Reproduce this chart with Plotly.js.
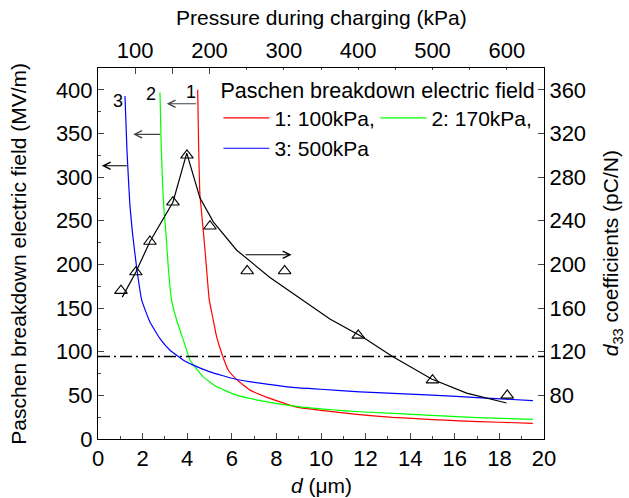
<!DOCTYPE html>
<html>
<head>
<meta charset="utf-8">
<script src="https://cdn.plot.ly/plotly-3.0.1.min.js"></script>
<style>html,body{margin:0;padding:0;background:#fff;}#chart{width:629px;height:498px;}</style>
</head>
<body>
<div id="chart"></div>
<script>
// Paschen breakdown electric field curves (MV/m) vs gap d (um)
const p100_x = [4.47, 4.51, 4.57, 4.65, 4.80, 4.90, 4.99, 5.17, 5.32, 5.55, 5.84, 6.25, 6.82, 7.71, 8.91, 10.1, 11.5, 13.2, 15.0, 16.2, 18.0, 19.5];
const p100_y = [400, 340, 280, 258, 216, 185, 159, 136, 117, 98, 79, 67.4, 56, 46.5, 36.5, 32.5, 28.5, 24.8, 22.3, 20.8, 19.2, 18];
const p170_x = [2.78, 2.83, 2.90, 2.96, 3.05, 3.15, 3.30, 3.53, 3.83, 4.13, 4.35, 4.72, 5.32, 6.22, 7.57, 9.06, 10.5, 11.75, 14.74, 17.0, 19.5];
const p170_y = [397, 340, 290, 262, 235, 197, 159, 136, 113, 90.3, 82.6, 71.2, 59.8, 50.3, 42.6, 36.8, 33.5, 31.2, 27.4, 24.5, 22.5];
const p500_x = [1.21, 1.30, 1.43, 1.55, 1.73, 1.96, 2.33, 2.78, 3.23, 3.83, 4.27, 5.02, 6.22, 7.57, 9.0, 10.0, 11.75, 14.74, 17.0, 19.5];
const p500_y = [393, 330, 268, 235, 197, 159, 134, 115, 101.7, 90.3, 84.6, 76.9, 68.2, 62.9, 58.5, 57, 54, 50.6, 47.5, 44];

// d33 coefficients (pC/N) measured and guide line
const d33_x = [1.03, 1.70, 2.33, 3.36, 3.99, 5.02, 6.69, 8.37, 11.67, 15.0, 18.35];
const d33_y = [176, 193, 221, 257, 300, 235, 194, 194, 135, 94, 80];
const fit_x = [1.09, 1.70, 2.33, 3.36, 3.98, 4.57, 5.17, 6.22, 7.71, 10.40, 11.90, 13.17, 14.96, 16.53, 18.32];
const fit_y = [170, 193, 221, 257, 302, 261, 239, 213, 188, 150, 133, 116, 95, 82, 73];

const legendNames = ['1: 100kPa,', '2: 170kPa,', '3: 500kPa'];
const curveLabels = ['1', '2', '3'];
const labelX = [4.17, 2.38, 0.91];
const labelY = [397, 395, 387];
// arrows (head x, tail x, y) left axis units
const arrowHeadX = [3.08, 1.58, 0.17];
const arrowTailX = [4.47, 2.85, 1.36];
const arrowY = [384, 349, 313];
const rightArrow = {tailX: 6.55, headX: 8.68, y: 211};
const dashLevel = 94.5;

const titles = {
  bottom: '<i>d</i> (μm)',
  top: 'Pressure during charging (kPa)',
  left: 'Paschen breakdown electric field (MV/m)',
  right: '<i>d</i><sub>33</sub> coefficients (pC/N)'
};

const FONT = 'Liberation Sans, Arial, sans-serif';
function mkFont(size) { return {family: FONT, size: size, color: '#000'}; }

const traces = [
  {x: p100_x, y: p100_y, mode: 'lines', name: legendNames[0], line: {color: '#ff0000', width: 1.2, shape: 'spline', smoothing: 0.4}},
  {x: p170_x, y: p170_y, mode: 'lines', name: legendNames[1], line: {color: '#00ff00', width: 1.2, shape: 'spline', smoothing: 0.4}},
  {x: p500_x, y: p500_y, mode: 'lines', name: legendNames[2], line: {color: '#0000ff', width: 1.2, shape: 'spline', smoothing: 0.4}},
  {x: fit_x, y: fit_y, yaxis: 'y2', mode: 'lines', showlegend: false, line: {color: '#000', width: 1.2}},
  {x: d33_x, y: d33_y, yaxis: 'y2', mode: 'markers', showlegend: false,
   marker: {symbol: 'triangle-up-open', size: 11, color: '#000', line: {width: 1.1, color: '#000'}}},
  {x: [null], y: [null], xaxis: 'x2', yaxis: 'y', mode: 'markers', showlegend: false, hoverinfo: 'skip'}
];

const annotations = [];
for (let i = 0; i < 3; i++) {
  annotations.push({x: labelX[i], y: labelY[i], xref: 'x', yref: 'y', text: curveLabels[i], showarrow: false,
    font: mkFont(18)});
  annotations.push({x: arrowHeadX[i], y: arrowY[i], ax: arrowTailX[i], ay: arrowY[i], xref: 'x', yref: 'y',
    axref: 'x', ayref: 'y', text: '', showarrow: true, arrowhead: 5, arrowsize: 1.3, arrowwidth: 1.1,
    arrowcolor: i === 2 ? '#000' : '#444', standoff: 0, startstandoff: 0});
}
annotations.push({x: rightArrow.headX, y: rightArrow.y, ax: rightArrow.tailX, ay: rightArrow.y, xref: 'x', yref: 'y',
  axref: 'x', ayref: 'y', text: '', showarrow: true, arrowhead: 5, arrowsize: 1.3, arrowwidth: 1.1,
  arrowcolor: '#000', standoff: 0, startstandoff: 0});
// axis titles placed in paper coordinates
annotations.push({xref: 'paper', yref: 'paper', x: 0.5, y: -0.124, text: titles.bottom, showarrow: false,
  xanchor: 'center', yanchor: 'middle', font: mkFont(21)});
annotations.push({xref: 'paper', yref: 'paper', x: 0.5, y: 1.137, text: titles.top, showarrow: false,
  xanchor: 'center', yanchor: 'middle', font: mkFont(21)});
annotations.push({xref: 'paper', yref: 'paper', x: -0.179, y: 0.5, text: titles.left, showarrow: false,
  textangle: -90, xanchor: 'center', yanchor: 'middle', font: mkFont(21)});
annotations.push({xref: 'paper', yref: 'paper', x: 1.152, y: 0.5, text: titles.right, showarrow: false,
  textangle: -90, xanchor: 'center', yanchor: 'middle', font: mkFont(21)});

const layout = {
  width: 629, height: 498,
  margin: {l: 98, r: 85, t: 68, b: 59},
  font: {family: FONT, color: '#000'},
  legend: {
    x: 0.27, y: 0.995, xanchor: 'left', yanchor: 'top', orientation: 'h', font: mkFont(21),
    title: {text: 'Paschen breakdown electric field', side: 'top', font: mkFont(21.5)},
    itemwidth: 46, entrywidth: 96, entrywidthmode: 'pixels'
  },
  xaxis: {
    range: [0, 20], tick0: 0, dtick: 2, ticks: 'inside', ticklen: 6,
    minor: {dtick: 1, ticks: 'inside', ticklen: 3},
    showline: true, linecolor: '#000', showgrid: false, zeroline: false, tickfont: mkFont(22)
  },
  xaxis2: {
    overlaying: 'x', side: 'top', anchor: 'y', range: [50, 650], tick0: 0, dtick: 100, ticks: 'inside', ticklen: 6,
    minor: {dtick: 50, ticks: 'inside', ticklen: 6},
    showline: true, linecolor: '#000', showgrid: false, zeroline: false, tickfont: mkFont(22)
  },
  yaxis: {
    range: [0, 425], dtick: 50, ticks: 'inside', ticklen: 6,
    minor: {dtick: 25, ticks: 'inside', ticklen: 3},
    showline: true, linecolor: '#000', showgrid: false, zeroline: false, tickfont: mkFont(22)
  },
  yaxis2: {
    overlaying: 'y', side: 'right', anchor: 'x', range: [40, 380],
    tickvals: [80, 120, 160, 200, 240, 280, 320, 360], ticks: 'inside', ticklen: 6,
    showline: true, linecolor: '#000', showgrid: false, zeroline: false, tickfont: mkFont(22)
  },
  shapes: [
    {type: 'line', xref: 'paper', yref: 'y', x0: 0, x1: 1, y0: dashLevel, y1: dashLevel,
     line: {color: '#000', width: 1.3, dash: '12px,4px,2px,4px'}}
  ],
  annotations: annotations
};

Plotly.newPlot('chart', traces, layout, {displayModeBar: false, staticPlot: true});
</script>
</body>
</html>
